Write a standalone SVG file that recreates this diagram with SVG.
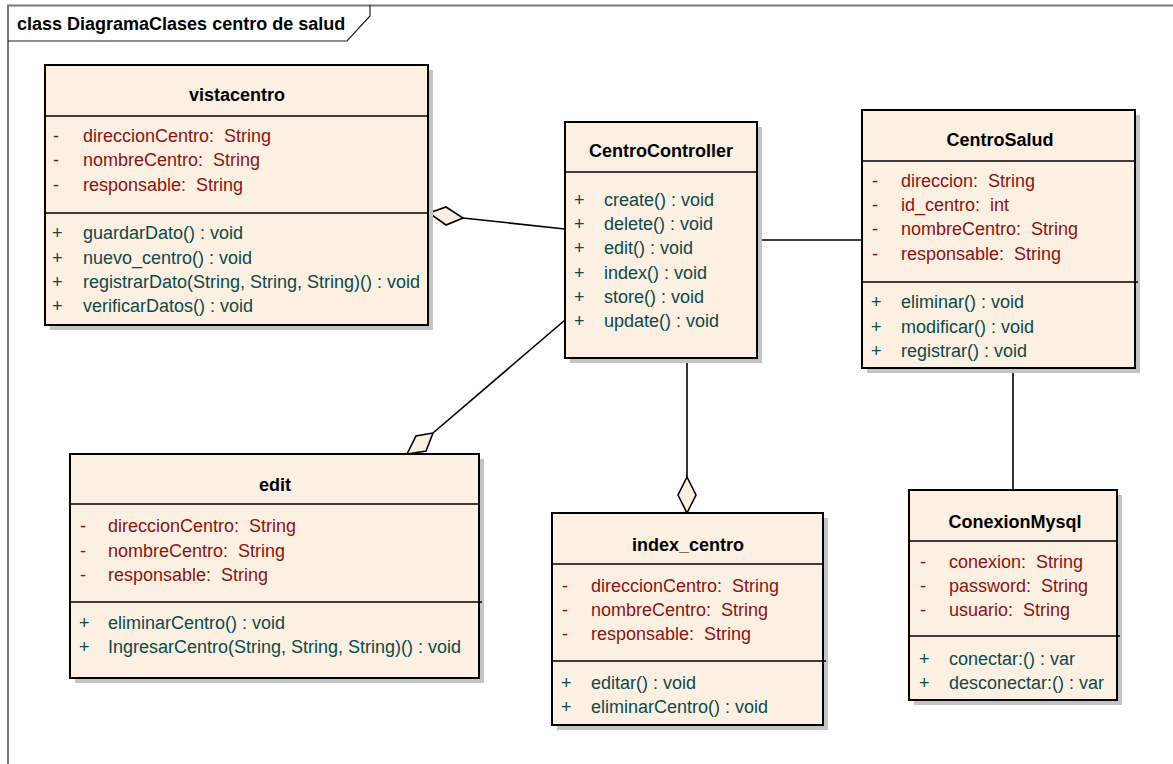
<svg xmlns="http://www.w3.org/2000/svg" width="1173" height="764" viewBox="0 0 1173 764">
  <style>
    text { white-space: pre; }
    .box { fill: #FBF0E1; stroke: #000; stroke-width: 2; }
    .shadow { fill: #C4C4C4; }
    .div { stroke: #000; stroke-width: 1.6; fill: none; }
    .title { font-family: "Liberation Sans", Arial, sans-serif; font-size: 18px; font-weight: bold; fill: #000; text-anchor: middle; }
    .attr { font-family: "Liberation Sans", Arial, sans-serif; font-size: 18px; fill: #8E1212; }
    .meth { font-family: "Liberation Sans", Arial, sans-serif; font-size: 18px; fill: #0E4A4A; }
    .conn { stroke: #000; stroke-width: 1.6; fill: none; }
    .diamond { fill: #FBF0E1; stroke: #000; stroke-width: 1.6; stroke-linejoin: miter; }
  </style>

  <rect width="1173" height="764" fill="#fff"/>

  <!-- diagram frame -->
  <g id="frame">
    <line x1="7" y1="5.5" x2="1173" y2="5.5" stroke="#777" stroke-width="2"/>
    <line x1="8" y1="5" x2="8" y2="764" stroke="#777" stroke-width="2"/>
    <polyline points="8,41 347,41 370,16 370,5" fill="none" stroke="#222" stroke-width="1.2"/>
    <text x="17" y="30" font-family="'Liberation Sans', Arial, sans-serif" font-size="18" font-weight="bold" fill="#000">class DiagramaClases centro de salud</text>
  </g>

  <!-- connectors -->
  <g id="connectors">
    <line class="conn" x1="463" y1="218" x2="565" y2="229"/>
    <polygon class="diamond" points="429,213 446,207 463,218 446,225"/>
    <line class="conn" x1="757" y1="240" x2="862" y2="240"/>
    <line class="conn" x1="565" y1="320" x2="433" y2="433"/>
    <polygon class="diamond" points="407,454 416,436 433,433 426,451"/>
    <line class="conn" x1="687" y1="358" x2="687" y2="477"/>
    <polygon class="diamond" points="687,477 696,495 687,513 678,495"/>
    <line class="conn" x1="1013" y1="368" x2="1013" y2="490"/>
  </g>

  <!-- vistacentro -->
  <g id="vistacentro">
    <rect class="shadow" x="50" y="70" width="383" height="260"/>
    <rect class="box" x="45" y="65" width="383" height="260"/>
    <line class="div" x1="45" y1="116" x2="428" y2="116"/>
    <line class="div" x1="45" y1="213" x2="428" y2="213"/>
    <text class="title" x="237" y="101">vistacentro</text>
    <text class="attr" x="53" y="142">-</text><text class="attr" x="83" y="142">direccionCentro:  String</text>
    <text class="attr" x="53" y="166">-</text><text class="attr" x="83" y="166">nombreCentro:  String</text>
    <text class="attr" x="53" y="191">-</text><text class="attr" x="83" y="191">responsable:  String</text>
    <text class="meth" x="52" y="239">+</text><text class="meth" x="83" y="239">guardarDato() : void</text>
    <text class="meth" x="52" y="264">+</text><text class="meth" x="83" y="264">nuevo_centro() : void</text>
    <text class="meth" x="52" y="288">+</text><text class="meth" x="83" y="288">registrarDato(String, String, String)() : void</text>
    <text class="meth" x="52" y="312">+</text><text class="meth" x="83" y="312">verificarDatos() : void</text>
  </g>

  <!-- CentroController -->
  <g id="CentroController">
    <rect class="shadow" x="570" y="127" width="192" height="236"/>
    <rect class="box" x="565" y="122" width="192" height="236"/>
    <line class="div" x1="565" y1="172" x2="757" y2="172"/>
    <text class="title" x="661" y="157">CentroController</text>
    <text class="meth" x="574" y="206">+</text><text class="meth" x="604" y="206">create() : void</text>
    <text class="meth" x="574" y="230">+</text><text class="meth" x="604" y="230">delete() : void</text>
    <text class="meth" x="574" y="254">+</text><text class="meth" x="604" y="254">edit() : void</text>
    <text class="meth" x="574" y="279">+</text><text class="meth" x="604" y="279">index() : void</text>
    <text class="meth" x="574" y="303">+</text><text class="meth" x="604" y="303">store() : void</text>
    <text class="meth" x="574" y="327">+</text><text class="meth" x="604" y="327">update() : void</text>
  </g>

  <!-- CentroSalud -->
  <g id="CentroSalud">
    <rect class="shadow" x="867" y="115" width="273" height="258"/>
    <rect class="box" x="862" y="110" width="273" height="258"/>
    <line class="div" x1="862" y1="161" x2="1135" y2="161"/>
    <line class="div" x1="862" y1="282" x2="1138" y2="282"/>
    <text class="title" x="1000" y="146">CentroSalud</text>
    <text class="attr" x="872" y="187">-</text><text class="attr" x="901" y="187">direccion:  String</text>
    <text class="attr" x="872" y="211">-</text><text class="attr" x="901" y="211">id_centro:  int</text>
    <text class="attr" x="872" y="235">-</text><text class="attr" x="901" y="235">nombreCentro:  String</text>
    <text class="attr" x="872" y="260">-</text><text class="attr" x="901" y="260">responsable:  String</text>
    <text class="meth" x="871" y="308">+</text><text class="meth" x="901" y="308">eliminar() : void</text>
    <text class="meth" x="871" y="333">+</text><text class="meth" x="901" y="333">modificar() : void</text>
    <text class="meth" x="871" y="357">+</text><text class="meth" x="901" y="357">registrar() : void</text>
  </g>

  <!-- edit -->
  <g id="edit">
    <rect class="shadow" x="75" y="459" width="409" height="224"/>
    <rect class="box" x="70" y="454" width="409" height="224"/>
    <line class="div" x1="70" y1="504" x2="479" y2="504"/>
    <line class="div" x1="70" y1="602" x2="482" y2="602"/>
    <text class="title" x="275" y="491">edit</text>
    <text class="attr" x="80" y="532">-</text><text class="attr" x="108" y="532">direccionCentro:  String</text>
    <text class="attr" x="80" y="557">-</text><text class="attr" x="108" y="557">nombreCentro:  String</text>
    <text class="attr" x="80" y="581">-</text><text class="attr" x="108" y="581">responsable:  String</text>
    <text class="meth" x="79" y="629">+</text><text class="meth" x="108" y="629">eliminarCentro() : void</text>
    <text class="meth" x="79" y="653">+</text><text class="meth" x="108" y="653">IngresarCentro(String, String, String)() : void</text>
  </g>

  <!-- index_centro -->
  <g id="index_centro">
    <rect class="shadow" x="557" y="518" width="271" height="212"/>
    <rect class="box" x="552" y="513" width="271" height="212"/>
    <line class="div" x1="552" y1="564" x2="823" y2="564"/>
    <line class="div" x1="552" y1="661" x2="826" y2="661"/>
    <text class="title" x="688" y="551">index_centro</text>
    <text class="attr" x="562" y="592">-</text><text class="attr" x="591" y="592">direccionCentro:  String</text>
    <text class="attr" x="562" y="616">-</text><text class="attr" x="591" y="616">nombreCentro:  String</text>
    <text class="attr" x="562" y="640">-</text><text class="attr" x="591" y="640">responsable:  String</text>
    <text class="meth" x="561" y="689">+</text><text class="meth" x="591" y="689">editar() : void</text>
    <text class="meth" x="561" y="713">+</text><text class="meth" x="591" y="713">eliminarCentro() : void</text>
  </g>

  <!-- ConexionMysql -->
  <g id="ConexionMysql">
    <rect class="shadow" x="914" y="495" width="208" height="210"/>
    <rect class="box" x="909" y="490" width="208" height="210"/>
    <line class="div" x1="909" y1="541" x2="1117" y2="541"/>
    <line class="div" x1="909" y1="636" x2="1120" y2="636"/>
    <text class="title" x="1015" y="528">ConexionMysql</text>
    <text class="attr" x="920" y="568">-</text><text class="attr" x="949" y="568">conexion:  String</text>
    <text class="attr" x="920" y="592">-</text><text class="attr" x="949" y="592">password:  String</text>
    <text class="attr" x="920" y="616">-</text><text class="attr" x="949" y="616">usuario:  String</text>
    <text class="meth" x="919" y="665">+</text><text class="meth" x="949" y="665">conectar:() : var</text>
    <text class="meth" x="919" y="689">+</text><text class="meth" x="949" y="689">desconectar:() : var</text>
  </g>
</svg>
